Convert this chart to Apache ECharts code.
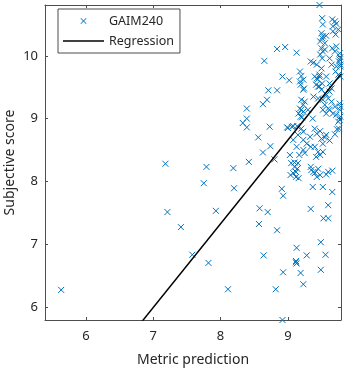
<!DOCTYPE html>
<html>
<head>
<meta charset="utf-8">
<script src="https://cdn.jsdelivr.net/npm/echarts@6/dist/echarts.min.js"></script>
<style>html,body{margin:0;padding:0;background:#fff;}#c{width:347px;height:369px;}</style>
</head>
<body>
<div id="c"></div>
<script>
// Metric prediction (x) values
const metricPred = [
5.63,7.18,7.21,7.41,7.58,7.75,7.79,7.82,7.93,8.11,8.19,8.20,8.42,8.39,8.39,8.33,8.39,8.56,8.63,8.63,
8.69,8.71,8.65,8.84,8.96,9.13,8.84,8.92,9.02,8.73,8.74,8.80,8.58,8.70,8.57,8.84,8.64,8.91,8.93,8.82,
8.93,8.92,9.13,9.12,9.13,9.19,9.23,9.28,9.34,9.37,9.49,9.49,9.56,9.52,9.60,9.53,9.60,9.66,9.66,9.47,
9.12,9.10,
8.99,9.06,9.14,9.20,9.23,9.15,9.08,9.23,9.28,9.13,9.33,9.40,9.43,9.50,9.52,9.57,9.34,9.40,9.45,9.48,
9.42,9.52,9.03,9.05,9.10,9.08,9.12,9.04,9.15,9.17,9.23,9.25,9.34,9.35,9.40,9.43,9.48,9.57,
9.21,9.16,9.08,9.00,9.48,9.55,9.62,9.70,9.77,9.73,9.14,9.12,9.16,9.38,9.45,9.60,
9.51,9.52,9.66,9.70,9.67,9.72,9.50,9.51,9.57,9.67,9.71,9.75,9.50,9.52,9.55,9.48,9.51,9.66,9.70,9.72,
9.77,9.78,9.76,9.78,9.34,9.43,9.50,9.47,9.18,9.20,9.23,9.19,9.23,9.40,9.44,9.42,9.47,9.51,9.57,9.62,
9.65,9.71,9.75,9.78,9.20,9.23,9.20,9.25,9.38,9.45,9.52,9.55,9.60,9.62,9.67,9.72,9.77,9.78,9.78,9.75,
9.76,9.57,9.62,9.52,9.57,9.37,9.30,
9.52,9.48,9.55,9.38,9.43,9.47,9.45,9.50,9.56,9.60,9.65,9.70,9.77,9.77,9.72,9.78,9.62,9.65,9.18,9.24,
9.18,9.23,9.19
];
// Subjective score (y) values
const subjScore = [
6.27,8.28,7.51,7.27,6.83,7.97,8.23,6.70,7.53,6.28,8.21,7.89,8.31,9.16,9.00,8.93,8.86,8.70,8.46,9.23,
9.30,9.45,9.92,10.11,10.14,10.05,9.45,9.67,9.61,8.87,8.56,8.35,7.57,7.51,7.32,7.22,6.82,7.88,7.77,6.28,
6.55,5.79,6.94,6.73,6.69,6.54,6.36,6.82,7.56,7.91,7.03,6.59,6.83,7.91,7.62,7.41,7.41,7.83,8.17,10.81,
6.71,8.30,
8.86,8.87,8.88,8.84,8.79,8.74,8.66,8.66,8.60,8.55,8.71,8.84,8.76,8.68,8.60,8.74,8.55,8.55,8.47,8.42,
8.39,8.47,8.42,8.29,8.23,8.13,8.07,8.10,8.29,8.42,8.50,8.45,8.23,8.18,8.13,8.07,8.10,8.11,
9.02,9.08,8.88,8.85,8.80,8.70,8.65,8.75,8.98,8.83,8.20,8.15,8.05,8.15,8.20,8.15,
10.60,10.50,10.58,10.55,10.47,10.51,10.36,10.28,10.32,10.39,10.34,10.42,10.12,10.07,10.10,10.02,9.96,10.12,10.07,10.15,
10.04,9.98,9.91,9.86,9.91,9.86,9.80,9.70,9.75,9.68,9.62,9.54,9.46,9.67,9.62,9.54,9.51,9.56,9.67,9.56,
9.48,9.75,9.70,9.67,9.30,9.22,9.14,9.27,9.35,9.32,9.30,9.22,9.16,9.14,9.08,9.06,9.14,9.19,9.03,8.95,
8.84,9.38,9.43,9.14,9.08,9.00,9.14,
10.31,10.23,10.20,9.89,9.64,9.67,9.51,9.46,9.40,9.32,9.27,9.19,9.24,9.94,9.83,9.83,9.96,9.86,9.59,9.48,
9.16,9.11,9.03
];
// Regression line coefficients
const regSlope = 1.333;
const regIntercept = -3.34;
const xRange = [5.39, 9.79];
const yRange = [5.79, 10.81];
const seriesNames = ['GAIM240', 'Regression'];

const points = metricPred.map((x, i) => [x, subjScore[i]]);
const regLine = xRange.map(x => [x, regSlope * x + regIntercept]);

const axisColor = '#4d4d4d';
const textColor = '#262626';
const blue = '#0072BD';
const font = 'Noto Sans';
const xMarker = 'path://M0,0L10,10M10,0L0,10';
const xMarkerFilled = 'path://M0,0.9L0.9,0L5,4.1L9.1,0L10,0.9L5.9,5L10,9.1L9.1,10L5,5.9L0.9,10L0,9.1L4.1,5Z';
const lineIcon = 'path://M0,0L41,0L41,1.5L0,1.5Z';

const chart = echarts.init(document.getElementById('c'), null, {renderer: 'canvas'});
const baseX = {
  type: 'value', min: xRange[0], max: xRange[1], splitNumber: 5,
  axisLine: {show: true, onZero: false, lineStyle: {color: axisColor, width: 1}},
  axisTick: {show: true, inside: true, length: 3, lineStyle: {color: axisColor}},
  splitLine: {show: false}
};
const baseY = {
  type: 'value', min: yRange[0], max: yRange[1], splitNumber: 5,
  axisLine: {show: true, onZero: false, lineStyle: {color: axisColor, width: 1}},
  axisTick: {show: true, inside: true, length: 3, lineStyle: {color: axisColor}},
  splitLine: {show: false}
};
chart.setOption({
  animation: false,
  backgroundColor: '#fff',
  grid: {left: 45, top: 5, width: 296, height: 315, containLabel: false, outerBoundsMode: 'none'},
  xAxis: [
    Object.assign({}, baseX, {
      position: 'bottom',
      name: 'Metric prediction', nameLocation: 'middle', nameGap: 33, nameMoveOverlap: false,
      nameTextStyle: {fontFamily: font, fontSize: 14, color: textColor},
      axisLabel: {show: true, margin: 10, fontFamily: font, fontSize: 13, color: textColor, showMinLabel: false, showMaxLabel: false}
    }),
    Object.assign({}, baseX, {position: 'top', axisLabel: {show: false}})
  ],
  yAxis: [
    Object.assign({}, baseY, {
      position: 'left',
      name: 'Subjective score', nameLocation: 'middle', nameGap: 28, nameRotate: 90, nameMoveOverlap: false,
      nameTextStyle: {fontFamily: font, fontSize: 14, color: textColor},
      axisLabel: {show: true, margin: 7, fontFamily: font, fontSize: 13, color: textColor, showMinLabel: false, showMaxLabel: false}
    }),
    Object.assign({}, baseY, {position: 'right', axisLabel: {show: false}})
  ],
  legend: {
    orient: 'vertical', left: 58, top: 9,
    padding: [4, 6, 4, 5],
    itemWidth: 41, itemHeight: 6, itemGap: 4,
    symbolKeepAspect: true,
    backgroundColor: '#fff', borderColor: axisColor, borderWidth: 1,
    textStyle: {fontFamily: font, fontSize: 12.5, color: textColor, lineHeight: 16},
    data: [
      {name: seriesNames[0], icon: xMarkerFilled, itemStyle: {color: blue, borderWidth: 0}},
      {name: seriesNames[1], icon: lineIcon, itemStyle: {color: '#000', borderWidth: 0}}
    ]
  },
  series: [
    {
      name: seriesNames[0], type: 'scatter', data: points,
      symbol: xMarker, symbolSize: 6,
      itemStyle: {color: 'none', borderColor: blue, borderWidth: 1, opacity: 1},
      clip: false
    },
    {
      name: seriesNames[1], type: 'line', data: regLine,
      symbol: 'none', showSymbol: false, clip: true,
      lineStyle: {color: '#000', width: 1.5},
      itemStyle: {color: '#000'}
    }
  ]
});
</script>
</body>
</html>
